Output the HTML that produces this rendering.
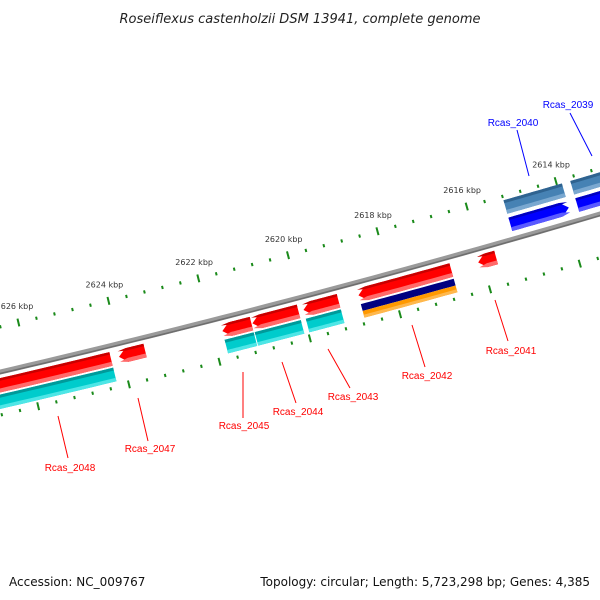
<!DOCTYPE html>
<html><head><meta charset="utf-8"><style>
html,body{margin:0;padding:0;background:#fff;}
svg{display:block;font-family:"Liberation Sans","DejaVu Sans",sans-serif;}
</style></head><body>
<svg id="map" width="600" height="600" viewBox="0 0 600 600">
<text x="300" y="23" text-anchor="middle" font-size="13" font-style="italic" fill="#222" style="font-family:'DejaVu Sans',sans-serif">Roseiflexus castenholzii DSM 13941, complete genome</text>
<g id="ticks"></g>
<g id="backbone"></g>
<g id="features"></g>
<g id="labels"></g>
<text x="9" y="586" font-size="12" fill="#111" style="font-family:'DejaVu Sans',sans-serif">Accession: NC_009767</text>
<text x="590" y="586" text-anchor="end" font-size="12" fill="#111" style="font-family:'DejaVu Sans',sans-serif">Topology: circular; Length: 5,723,298 bp; Genes: 4,385</text>
</svg>
<script>
// gene names, strand, start/end (bp), track type
const geneNames = ["Rcas_2048","Rcas_2047","Rcas_2045","Rcas_2044","Rcas_2043","Rcas_2042","Rcas_2041","Rcas_2040","Rcas_2039"];
const geneStart = [2624244,2623490,2621133,2620089,2619200,2616689,2615689,2613889,2611800];
const geneEnd   = [2628500,2624067,2621778,2621111,2619978,2618756,2616089,2615200,2613700];
const geneStrand = [-1,-1,-1,-1,-1,-1,-1,1,1];
const cogType = ["cyan","none","cyan","cyan","cyan","navyorange","none","steel","steel"];
const labelX = [70,150,244,298,353,427,511,513,568];
const labelY = [471,452,429,415,400,379,354,126,108];
const lineFrom = [[58,416],[138,398],[243,372],[282,362],[328,349],[412,325],[495,300],[529,176],[592,156]];
const lineTo = [[68,458],[148,441],[243,418],[296,403],[350,388],[425,367],[508,341],[517,130],[570,113]];
const tickMajorKbp = [2612,2614,2616,2618,2620,2622,2624,2626,2628];

const NS="http://www.w3.org/2000/svg";
const R=11000, P0=[299,297], u0=[0.2545,0.967];
const cx=P0[0]-R*u0[0], cy=P0[1]-R*u0[1];
const a0=Math.atan2(u0[1],u0[0]);
const k=0.0465/R;
function ang(bp){return a0+(bp-2620000)*k;}
// off > 0 means upward on screen (toward centre)
function pt(off,bp){const a=ang(bp),r=R-off;return [cx+r*Math.cos(a),cy+r*Math.sin(a)];}
function mk(tag,attrs,parent){const e=document.createElementNS(NS,tag);for(const a in attrs)e.setAttribute(a,attrs[a]);parent.appendChild(e);return e;}
function arcPts(off,b1,b2,n){const p=[];for(let i=0;i<=n;i++){p.push(pt(off,b1+(b2-b1)*i/n));}return p;}
function band(o1,o2,b1,b2,arrow){
  const head=8/0.0465;
  let s=b1,e=b2;
  if(arrow===1)e=Math.max(b1,b2-head);
  if(arrow===-1)s=Math.min(b2,b1+head);
  let p=arcPts(o1,s,e,16);
  if(arrow===1)p.push(pt((o1+o2)/2,b2));
  p=p.concat(arcPts(o2,e,s,16));
  if(arrow===-1)p.push(pt((o1+o2)/2,b1));
  return p.map(q=>q[0].toFixed(2)+","+q[1].toFixed(2)).join(" ");
}

// ticks
const tg=document.getElementById("ticks");
[44,-42].forEach((off)=>{
  for(let bp=2610000;bp<=2630000;bp+=400){
    const major=(bp%2000===0);
    const h=major?4:1.6;
    const p1=pt(off-h,bp),p2=pt(off+h,bp);
    const l=mk("line",{x1:p1[0],y1:p1[1],x2:p2[0],y2:p2[1],stroke:"#1a8a1a","stroke-width":2},tg);
    
    
  }
});
tickMajorKbp.forEach(kb=>{
  const p=pt(61,kb*1000);
  const t=mk("text",{x:p[0],y:p[1]+3,"text-anchor":"middle","font-size":"8",fill:"#333",style:"font-family:'DejaVu Sans',sans-serif"},tg);
  t.textContent=kb+" kbp";
  
  
});

// backbone
const bg=document.getElementById("backbone");
const bpts=arcPts(0,2610000,2630000,60).map(q=>q.join(",")).join(" ");
const bl1=mk("polyline",{points:bpts,fill:"none",stroke:"#9a9a9a","stroke-width":5},bg);


const bpts2=arcPts(-1.5,2610000,2630000,60).map(q=>q.join(",")).join(" ");
const bl2=mk("polyline",{points:bpts2,fill:"none",stroke:"#6e6e6e","stroke-width":1.5},bg);



// features
const fg=document.getElementById("features");
function poly(pts,fill,name){const p=mk("polygon",{points:pts,fill:fill},fg);return p;}
geneNames.forEach((g,i)=>{
  const b1=geneStart[i],b2=geneEnd[i];
  if(geneStrand[i]<0){
    poly(band(-6,-20,b1,b2,1),"#ff0000",'gene-arrow');
    poly(band(-6,-8.5,b1,b2,1),"#c80000",'gene-arrow-top');
    poly(band(-16,-20,b1,b2,1),"#ff6a6a",'gene-arrow-bottom');
    if(cogType[i]==="cyan"){
      poly(band(-22,-36,b1,b2,0),"#00cccc",'cog-cyan');
      poly(band(-22,-25,b1,b2,0),"#009a9a",'cog-cyan-top');
      poly(band(-32.5,-36,b1,b2,0),"#4ee6e6",'cog-cyan-bottom');
    } else if(cogType[i]==="navyorange"){
      poly(band(-22,-29,b1,b2,0),"#000080",'cog-navy');
      poly(band(-29,-36,b1,b2,0),"#ff9900",'cog-orange');
      poly(band(-33,-36,b1,b2,0),"#ffb84d",'cog-orange-bottom');
    }
  } else {
    poly(band(22,8,b1,b2,-1),"#0000ff",'gene-arrow');
    poly(band(22,19.5,b1,b2,-1),"#0000c0",'gene-arrow-top');
    poly(band(12,8,b1,b2,-1),"#5a5aff",'gene-arrow-bottom');
    if(cogType[i]==="steel"){
      poly(band(40,26,b1,b2,0),"#4682b4",'cog-steel');
      poly(band(40,37,b1,b2,0),"#2f6390",'cog-steel-top');
      poly(band(30,26,b1,b2,0),"#7aa8d0",'cog-steel-bottom');
    }
  }
});

// labels
const lg=document.getElementById("labels");
geneNames.forEach((g,i)=>{
  const col=geneStrand[i]<0?"#ff0000":"#0000ff";
  const l=mk("line",{x1:lineFrom[i][0],y1:lineFrom[i][1],x2:lineTo[i][0],y2:lineTo[i][1],stroke:col,"stroke-width":1},lg);
  
  
  const t=mk("text",{x:labelX[i],y:labelY[i],"text-anchor":"middle","font-size":"10",fill:col},lg);
  t.textContent=g;
  
  
});
</script>
</body></html>
